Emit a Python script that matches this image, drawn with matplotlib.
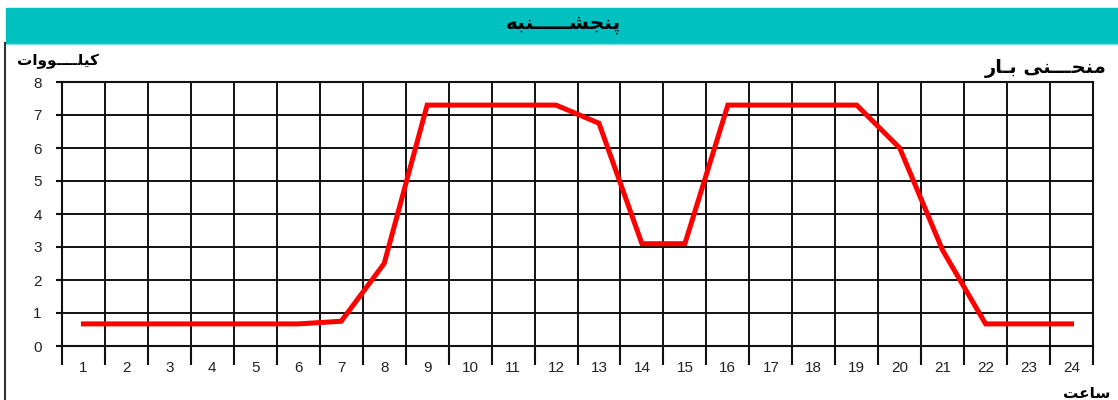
import numpy as np
import matplotlib
matplotlib.use("Agg")
import matplotlib.pyplot as plt
from matplotlib.patches import Rectangle
from matplotlib.lines import Line2D

# hourly load curve (kW), Thursday
hours = list(range(1, 25))
load_kw = [0.67, 0.67, 0.67, 0.67, 0.67, 0.67, 0.75, 2.5, 7.3, 7.3, 7.3, 7.3,
           6.75, 3.1, 3.1, 7.3, 7.3, 7.3, 7.3, 6.0, 2.9, 0.67, 0.67, 0.67]
y_ticks = list(range(0, 9))

# persian labels written with presentation forms in visual (left-to-right) order,
# because matplotlib does no arabic shaping
day_title = "\uFEEA\uFE92\uFEE8" + "\u0640" * 5 + "\uFEB8\uFEA0\uFEE8\uFB58"      # پنجشنبه
ylabel_txt = "\uFE95\uFE8D\uFEED\uFEEE" + "\u0640" * 4 + "\uFEE0\uFBFF\uFB90"     # کیلووات
curve_txt = "\uFEAD\uFE8E\u0640\uFE91 \uFBFD\uFEE8" + "\u0640" * 3 + "\uFEA4\uFEE8\uFEE3"  # منحنی بار
xlabel_txt = "\uFE96\uFECB\uFE8E\uFEB3"                                           # ساعت

W, H = 1118, 400
fig = plt.figure(figsize=(W / 100, H / 100), dpi=100)

# teal header bar and left frame line
fig.patches.append(Rectangle((6 / W, (H - 43) / H), 1 - 6 / W, 35 / H,
                             transform=fig.transFigure, color="#00C0C0", zorder=0))
fig.lines.append(Line2D([6 / W, 1], [(H - 43.5) / H] * 2, transform=fig.transFigure,
                        color="#7FDFDF", lw=1))
fig.lines.append(Line2D([4.5 / W, 4.5 / W], [0, (H - 43) / H], transform=fig.transFigure,
                        color="#333333", lw=1.5))
fig.text(563 / W, (H - 24) / H, day_title, ha="center", va="center",
         fontsize=14.5, fontweight="bold", family="DejaVu Sans")

ax = fig.add_axes([62 / W, (H - 346) / H, (1093 - 62) / W, (346 - 82) / H])
ax.plot(hours, load_kw, color="#FF0000", lw=3.6, solid_joinstyle="miter", zorder=3)

ax.set_xlim(0.5, 24.5)
ax.set_ylim(0, 8)
ax.set_xticks(np.arange(0.5, 25, 1))
ax.set_xticklabels([])
ax.set_xticks(hours, minor=True)
ax.set_xticklabels([str(h) for h in hours], minor=True)
ax.set_yticks(y_ticks)
ax.tick_params(axis="x", which="major", direction="out", length=14, width=1.5, color="#111111")
ax.tick_params(axis="x", which="minor", length=0, pad=11, labelsize=11, labelcolor="#222222")
ax.tick_params(axis="y", direction="out", length=4.5, width=1.5, pad=10,
               labelsize=11, labelcolor="#222222", color="#111111")
for lab in ax.get_xticklabels(minor=True) + ax.get_yticklabels():
    lab.set_family("Liberation Sans")

ax.grid(True, which="major", color="#111111", lw=1.4)
ax.set_axisbelow(True)
for sp in ax.spines.values():
    sp.set_color("#111111")
    sp.set_linewidth(1.5)

fig.text(58 / W, (H - 61) / H, ylabel_txt, ha="center", va="center",
         fontsize=11, fontweight="bold", family="DejaVu Sans")
fig.text(1107 / W, (H - 68) / H, curve_txt, ha="right", va="center",
         fontsize=14, fontweight="bold", family="DejaVu Sans")
fig.text(1110 / W, (H - 393) / H, xlabel_txt, ha="right", va="center",
         fontsize=11, fontweight="bold", family="DejaVu Sans")

fig.savefig("out.png", dpi=100)
